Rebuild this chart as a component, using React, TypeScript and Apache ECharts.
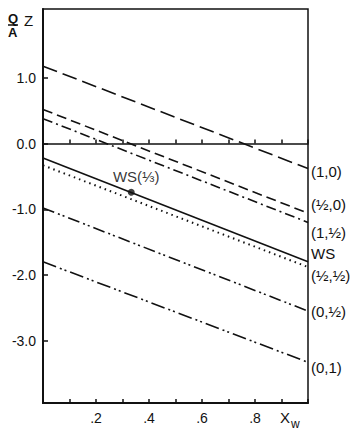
import React, { useEffect, useRef } from "react";
import * as echarts from "echarts";

// x positions of the line ends (mole fraction of water)
const xEnds = [0, 1];
const seriesNames = ["(1,0)", "(½,0)", "(1,½)", "WS", "(½,½)", "(0,½)", "(0,1)"];
const startValues = [1.18, 0.52, 0.38, -0.22, -0.33, -0.98, -1.8];
const endValues = [-0.38, -1.06, -1.2, -1.8, -1.88, -2.55, -3.33];
const dashPatterns: (string | number[])[] = [
  [15, 6],
  [10, 5],
  [10, 4, 2, 4],
  "solid",
  [1.5, 4],
  [12, 4, 2, 3, 2, 4],
  [14, 4, 2, 3, 2, 4],
];
const pointX = [0.333];
const pointY = [-0.74];
const pointLabel = "WS(⅓)";
const yTicks = [-3, -2, -1, 0, 1];
const xLabelTicks = [0.2, 0.4, 0.6, 0.8];
// label y-pixel anchors for the right-side series names
const rightLabelY = [172, 205, 233, 254, 276, 312, 368];

const FONT = "Liberation Sans";

export default function App() {
  const ref = useRef<HTMLDivElement>(null);
  useEffect(() => {
    document.body.style.margin = "0";
    const chart = echarts.init(ref.current!, null, { renderer: "svg" });
    const black = "#111";
    const lineSeries = seriesNames.map((name, i) => ({
      name,
      type: "line",
      xAxisIndex: 0,
      data: [
        [xEnds[0], startValues[i]],
        [xEnds[1], endValues[i]],
      ],
      symbol: "none",
      lineStyle: { color: black, width: i === 4 ? 2 : 1.6, type: dashPatterns[i] as any, cap: "butt" },
      silent: true,
    }));
    const option: any = {
      animation: false,
      backgroundColor: "#fff",
      grid: {
        left: 43,
        right: 51,
        top: 9,
        bottom: 27,
        show: true,
        borderColor: black,
        borderWidth: 1.5,
        backgroundColor: "transparent",
      },
      xAxis: [
        {
          type: "value",
          min: 0,
          max: 1,
          interval: 0.1,
          position: "bottom",
          axisLine: { onZero: false, lineStyle: { color: black, width: 2 } },
          axisTick: { inside: true, length: 4, lineStyle: { color: black, width: 1.5 } },
          splitLine: { show: false },
          axisLabel: {
            margin: 8,
            color: black,
            fontFamily: FONT,
            fontSize: 14,
            formatter: (v: number) => {
              const r = Math.round(v * 10) / 10;
              return xLabelTicks.some((t) => Math.abs(t - r) < 1e-6) ? "." + Math.round(r * 10) : "";
            },
          },
        },
        {
          type: "value",
          min: 0,
          max: 1,
          interval: 0.1,
          position: "bottom",
          axisLine: { onZero: true, lineStyle: { color: black, width: 1.6 } },
          axisTick: { inside: true, length: 4, lineStyle: { color: black, width: 1.5 } },
          splitLine: { show: false },
          axisLabel: { show: false },
        },
      ],
      yAxis: {
        type: "value",
        min: -3.95,
        max: 2.05,
        axisLine: { lineStyle: { color: black, width: 2 } },
        axisTick: {
          inside: true,
          length: 5,
          customValues: yTicks,
          lineStyle: { color: black, width: 1.5 },
        },
        splitLine: { show: false },
        axisLabel: {
          customValues: yTicks,
          margin: 7,
          color: black,
          fontFamily: FONT,
          fontSize: 14,
          formatter: (v: number) => v.toFixed(1),
        },
      },
      series: [
        ...lineSeries,
        {
          type: "scatter",
          xAxisIndex: 0,
          data: pointX.map((x, i) => [x, pointY[i]]),
          symbol: "circle",
          symbolSize: 7,
          itemStyle: { color: black },
          label: {
            show: true,
            formatter: pointLabel,
            position: "top",
            distance: 5,
            offset: [5, 0],
            color: "#000",
            textBorderWidth: 0,
            fontFamily: FONT,
            fontSize: 15,
          },
          silent: true,
        },
      ],
      graphic: [
        ...seriesNames.map((name, i) => ({
          type: "text",
          left: 311,
          top: rightLabelY[i] - 8,
          style: { text: name, fill: black, font: `15px "${FONT}"` },
          silent: true,
        })),
        { type: "text", left: 8, top: 12, style: { text: "Q", fill: black, font: `bold 13px "${FONT}"` } },
        { type: "line", shape: { x1: 8, y1: 25, x2: 18, y2: 25 }, style: { stroke: black, lineWidth: 1.5 } },
        { type: "text", left: 8, top: 26, style: { text: "A", fill: black, font: `bold 13px "${FONT}"` } },
        { type: "text", left: 24, top: 13, style: { text: "Z", fill: black, font: `15px "${FONT}"` } },
        { type: "text", left: 280, top: 410, style: { text: "X", fill: black, font: `15px "${FONT}"` } },
        { type: "text", left: 291, top: 418, style: { text: "w", fill: black, font: `12px "${FONT}"` } },
      ],
    };
    chart.setOption(option);
    return () => chart.dispose();
  }, []);
  return <div ref={ref} style={{ width: 359, height: 430 }} />;
}
